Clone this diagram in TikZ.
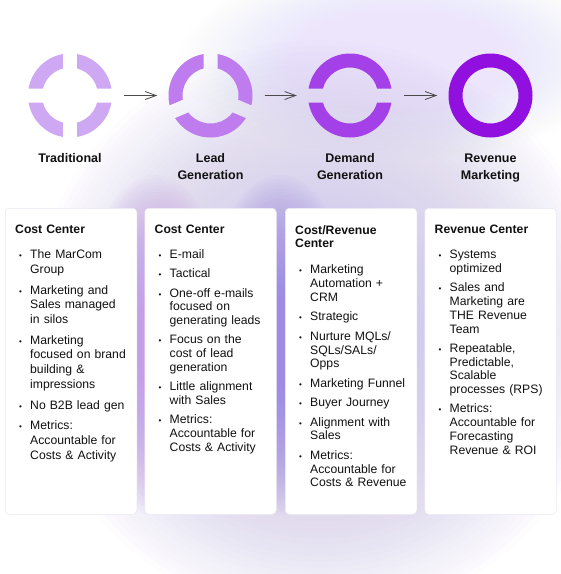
\documentclass[tikz,border=0pt]{standalone}
\usepackage{fontspec}
\setmainfont{Liberation Sans}
\usetikzlibrary{arrows.meta,calc}

\definecolor{ringA}{HTML}{CFA8F3}
\definecolor{ringB}{HTML}{BE7CEF}
\definecolor{ringC}{HTML}{A340E8}
\definecolor{ringD}{HTML}{9110E0}
\definecolor{arrowgray}{HTML}{4A4A4A}
\definecolor{glowM}{HTML}{C69DE8}
\definecolor{glowB}{HTML}{9F8BE4}
\definecolor{glowW}{HTML}{CCC2EE}
\definecolor{glowT}{HTML}{EDE5FC}
\definecolor{cardedge}{HTML}{ECE9F2}
\definecolor{txt}{HTML}{111111}

\newlength{\itemgap}
\newcommand{\smallbullet}{{\fontsize{8pt}{8pt}\selectfont •}}
\newcommand{\itm}[1]{\par\vspace{\itemgap}{\leftskip=15pt\noindent\llap{\makebox[15pt][l]{\hspace{4pt}\smallbullet}}#1\par}}
\newcommand{\ringpart}[4]{%
  \pgfmathsetmacro\rpmid{(#2+#3)/2}%
  \pgfmathsetmacro\rpoff{7/sin((#3-#2)/2)}%
  \coordinate (rpP) at ($(#1.center)+(\rpmid:\rpoff)$);
  \begin{scope}
    \clip (rpP) -- ($(rpP)+(#2:90)$) -- ($(rpP)+(\rpmid:90)$) -- ($(rpP)+(#3:90)$) -- cycle;
    \fill[#4, even odd rule] (#1.center) circle[radius=42] (#1.center) circle[radius=28];
  \end{scope}}
% stepped soft glow: centre x, centre y, x radius, y radius, colour, layer opacity
\newcommand{\softglow}[6]{%
  \foreach \gk in {1,...,50}{%
    \fill[#5, fill opacity=#6] (#1,#2) ellipse [x radius={#3*\gk/50}, y radius={#4*\gk/50}];}}

\tikzset{
  ringnode/.style={circle, minimum size=84pt, inner sep=0pt},
  flowarrow/.style={draw=arrowgray, line width=0.8pt, -{Straight Barb[length=11pt,width=8pt]}},
  ringlabel/.style={anchor=base, align=center, inner sep=0pt, text=txt,
    font=\fontsize{12.5pt}{16.7pt}\selectfont\bfseries},
  card/.style={anchor=north west, fill=white, draw=cardedge, line width=0.5pt,
    rounded corners=4pt, inner sep=0pt, minimum width=131.5pt, minimum height=306pt},
  ctext/.style={anchor=north west, inner sep=0pt, text width=125pt, align=left, text=txt}
}

\begin{document}
\begin{tikzpicture}[x=1pt,y=-1pt]
\useasboundingbox (0,0) rectangle (561,574);
\begin{scope}
\clip (0,0) rectangle (561,574);
\fill[white] (0,0) rectangle (561,574);
\softglow{400}{60}{220}{100}{glowT}{0.03}
\softglow{320}{330}{290}{290}{glowW}{0.035}
\softglow{155}{345}{78}{170}{glowM}{0.045}
\softglow{280}{345}{78}{170}{glowB}{0.045}
\end{scope}

% rings
\node[ringnode] (r1) at (70,95.5) {};
\node[ringnode] (r2) at (210.5,95.5) {};
\node[ringnode] (r3) at (350,95.5) {};
\node[ringnode] (r4) at (490.5,95.5) {};

\ringpart{r1}{0}{90}{ringA}
\ringpart{r1}{90}{180}{ringA}
\ringpart{r1}{180}{270}{ringA}
\ringpart{r1}{270}{360}{ringA}

\ringpart{r2}{-90}{23}{ringB}
\ringpart{r2}{23}{157}{ringB}
\ringpart{r2}{157}{270}{ringB}

\ringpart{r3}{0}{180}{ringC}
\ringpart{r3}{180}{360}{ringC}

\fill[ringD, even odd rule] (r4.center) circle[radius=42] (r4.center) circle[radius=28];

% arrows
\draw[flowarrow] ([xshift=12pt]r1.east) -- ([xshift=-11pt]r2.west);
\draw[flowarrow] ([xshift=12pt]r2.east) -- ([xshift=-11pt]r3.west);
\draw[flowarrow] ([xshift=12pt]r3.east) -- ([xshift=-11pt]r4.west);

% labels (base = baseline of last line)
\node[ringlabel] (l1) at (70,162.5) {Traditional};
\node[ringlabel] (l2) at (210.5,179.2) {Lead\\Generation};
\node[ringlabel] (l3) at (350,179.2) {Demand\\Generation};
\node[ringlabel] (l4) at (490.5,179.2) {Revenue\\Marketing};

% cards
\node[card] (k1) at (5,208) {};
\node[card] (k2) at (144.5,208) {};
\node[card] (k3) at (285,208) {};
\node[card] (k4) at (424.5,208) {};

\node[ctext, font=\fontsize{12.2pt}{14.7pt}\selectfont] (t1) at ($(k1.north west)+(10,17)$) {%
\setlength{\itemgap}{6pt}\raggedright\parindent=0pt
\textbf{Cost Center}\par\vspace{4.3pt}
\itm{The MarCom\\Group}
\itm{Marketing and\\Sales managed\\in silos}
\itm{Marketing\\focused on brand\\building \&\\impressions}
\itm{No B2B lead gen}
\itm{Metrics:\\Accountable for\\Costs \& Activity}};

\node[ctext, font=\fontsize{12.2pt}{13.8pt}\selectfont] (t2) at ($(k2.north west)+(10,17)$) {%
\setlength{\itemgap}{5.4pt}\raggedright\parindent=0pt
\textbf{Cost Center}\par\vspace{5.8pt}
\itm{E-mail}
\itm{Tactical}
\itm{One-off e-mails\\focused on\\generating leads}
\itm{Focus on the\\cost of lead\\generation}
\itm{Little alignment\\with Sales}
\itm{Metrics:\\Accountable for\\Costs \& Activity}};

\node[ctext, font=\fontsize{12.2pt}{13.8pt}\selectfont] (t3) at ($(k3.north west)+(10,17)$) {%
\setlength{\itemgap}{5.6pt}\raggedright\parindent=0pt
\textbf{Cost/Revenue\\Center}\par\vspace{6.6pt}
\itm{Marketing\\Automation +\\CRM}
\itm{Strategic}
\itm{Nurture MQLs/\\SQLs/SALs/\\Opps}
\itm{Marketing Funnel}
\itm{Buyer Journey}
\itm{Alignment with\\Sales}
\itm{Metrics:\\Accountable for\\Costs \& Revenue}};

\node[ctext, font=\fontsize{12.2pt}{13.8pt}\selectfont] (t4) at ($(k4.north west)+(10,17)$) {%
\setlength{\itemgap}{5.4pt}\raggedright\parindent=0pt
\textbf{Revenue Center}\par\vspace{5.8pt}
\itm{Systems\\optimized}
\itm{Sales and\\Marketing are\\THE Revenue\\Team}
\itm{Repeatable,\\Predictable,\\Scalable\\processes (RPS)}
\itm{Metrics:\\Accountable for\\Forecasting\\Revenue \& ROI}};
\end{tikzpicture}
\end{document}
